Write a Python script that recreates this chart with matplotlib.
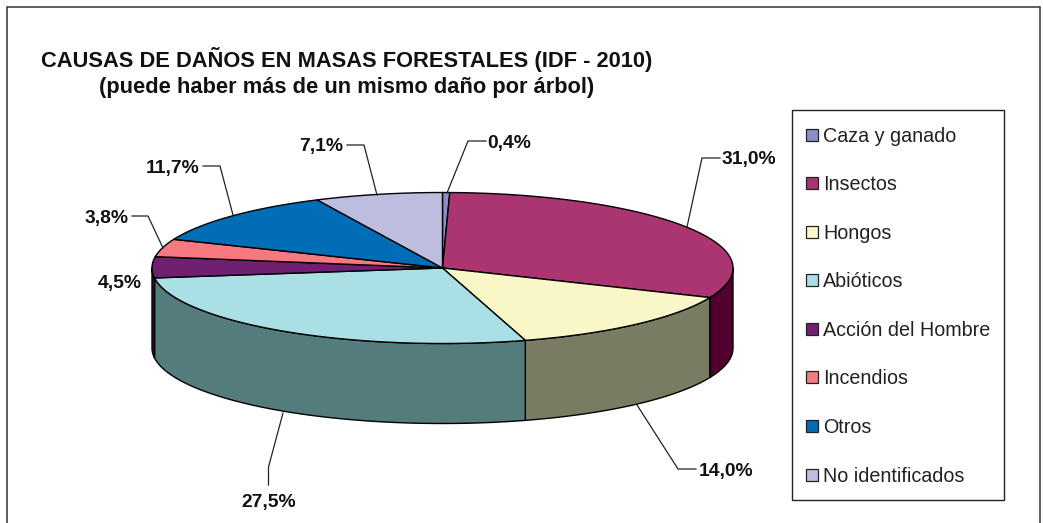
import numpy as np
import matplotlib
matplotlib.use('Agg')
import matplotlib.pyplot as plt
from matplotlib.patches import Polygon, Rectangle

plt.rcParams['font.family'] = ['Liberation Sans', 'DejaVu Sans']

categories = ['Caza y ganado', 'Insectos', 'Hongos', 'Abióticos',
              'Acción del Hombre', 'Incendios', 'Otros', 'No identificados']
values = [0.4, 31.0, 14.0, 27.5, 4.5, 3.8, 11.7, 7.1]
labels = ['0,4%', '31,0%', '14,0%', '27,5%', '4,5%', '3,8%', '11,7%', '7,1%']
top_colors = ['#8a8fc8', '#ab3570', '#f9f6c7', '#aadfe6',
              '#711f70', '#f5797f', '#006db6', '#bdbde0']
side_colors = ['#45486a', '#52002f', '#797c62', '#557c7c',
               '#3a1040', '#7b3c40', '#00365b', '#5e5e70']
title = 'CAUSAS DE DAÑOS EN MASAS FORESTALES (IDF - 2010)\n(puede haber más de un mismo daño por árbol)'

W, H = 1043, 523
CX, CY, RX, RY, DEPTH = 442.5, 268.0, 290.5, 75.5, 80.0

fig = plt.figure(figsize=(W / 100, H / 100), dpi=100)
ax = fig.add_axes([0, 0, 1, 1])
ax.set_xlim(0, W)
ax.set_ylim(H, 0)
ax.axis('off')

ax.add_patch(Rectangle((6.5, 6.5), 1033.5, 530, fc='white', ec='#333333', lw=1.1))


def rim(a0, a1, dy=0.0):
    t = np.radians(np.linspace(a0, a1, max(int(abs(a1 - a0)) * 2, 2) + 1))
    return np.column_stack([CX + RX * np.sin(t), CY + RY * -np.cos(t) + dy])


edges = np.concatenate([[0], np.cumsum(values)]) / sum(values) * 360

# visible wall of the cylinder: from 90 deg (right end) to 270 deg (left end)
for i in range(len(values)):
    a0, a1 = max(edges[i], 90), min(edges[i + 1], 270)
    if a1 <= a0:
        continue
    up = rim(a0, a1)
    down = rim(a0, a1, DEPTH)[::-1]
    ax.add_patch(Polygon(np.vstack([up, down]), closed=True, fc=side_colors[i],
                         ec='black', lw=1.0, joinstyle='round', zorder=2))

# top face
for i in range(len(values)):
    pts = np.vstack([[CX, CY], rim(edges[i], edges[i + 1])])
    ax.add_patch(Polygon(pts, closed=True, fc=top_colors[i], ec='black',
                         lw=1.0, joinstyle='round', zorder=3))

ax.text(347, 72.5, title, ha='center', va='center', fontsize=15.75, weight='bold',
        color='#111111', linespacing=1.26, zorder=6)

# data labels with leader lines
label_pos = [(509.5, 143.5), (749, 159.5), (726, 471.5), (268.5, 503),
             (120, 283.5), (106.5, 218.5), (173, 168.5), (321, 146.5)]
leaders = [
    [(486, 141), (468, 141), (447, 193)],
    [(720, 158), (702, 158), (687, 227)],
    [(696, 469), (678, 469), (637, 405)],
    [(268.5, 485), (268.5, 467), (283, 413)],
    None,
    [(132, 216), (148, 216), (163, 248)],
    [(203, 166), (220, 166), (233, 215)],
    [(347, 145), (364, 145), (377, 195)],
]
for lab, (x, y), lead in zip(labels, label_pos, leaders):
    ax.text(x, y, lab, ha='center', va='center', fontsize=13.9, weight='bold',
            color='#111111', zorder=6)
    if lead:
        xs, ys = zip(*lead)
        ax.plot(xs, ys, color='#222222', lw=0.9, zorder=5, solid_joinstyle='miter')

# legend
ax.add_patch(Rectangle((791.5, 109.5), 212, 390, fc='white', ec='#222222', lw=1.0, zorder=4))
legend_y = [135, 183, 232, 280, 329, 377, 426, 475]
for name, col, y in zip(categories, top_colors, legend_y):
    ax.add_patch(Rectangle((806, y - 6), 12, 12, fc=col, ec='#222222', lw=0.9, zorder=5))
    ax.text(823, y + 1.5, name, ha='left', va='center', fontsize=14.2, color='#222222', zorder=6)

fig.savefig('out.png', dpi=100, facecolor='white')
